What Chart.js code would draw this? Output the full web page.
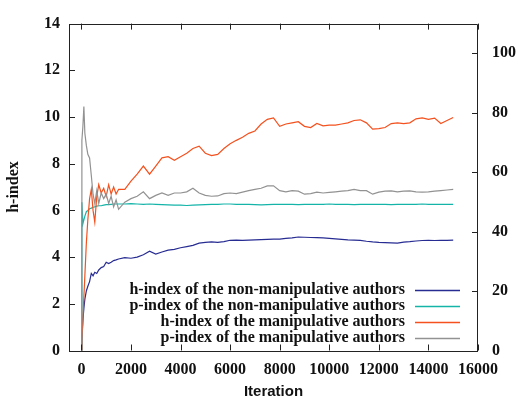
<!DOCTYPE html>
<html>
<head>
<meta charset="utf-8">
<script src="https://cdn.jsdelivr.net/npm/chart.js@4.4.0/dist/chart.umd.min.js"></script>
<style>
html, body { margin: 0; padding: 0; background: #fff; }
#wrap { width: 518px; height: 400px; position: relative; }
</style>
</head>
<body>
<div id="wrap"><canvas id="chart"></canvas></div>
<script>
// iteration of each sample (denser at the start where the curves move fast)
const ITERATIONS = [
    0, 20, 60, 100, 140, 200, 260, 330, 400, 470, 540, 620, 700, 800, 900, 1000, 1100, 1200, 1300, 1400, 1500,
    1750, 2000, 2250, 2500, 2750, 3000, 3250, 3500, 3750,
    4000, 4250, 4500, 4750, 5000, 5250, 5500, 5750, 6000,
    6250, 6500, 6750, 7000, 7250, 7500, 7750, 8000, 8250,
    8500, 8750, 9000, 9250, 9500, 9750, 10000, 10250, 10500,
    10750, 11000, 11250, 11500, 11750, 12000, 12250, 12500, 12750,
    13000, 13250, 13500, 13750, 14000, 14250, 14500, 14750, 15000,
];

// left axis (h-index)
const H_NON_MANIP = [
    0, 0.4, 1.3, 1.8, 2.2, 2.55, 2.75, 2.95, 3.3, 3.2, 3.35, 3.3, 3.45, 3.55, 3.6, 3.78, 3.72, 3.78, 3.85, 3.88, 3.92,
    3.98, 3.95, 4.0, 4.1, 4.25, 4.13, 4.22, 4.3, 4.33,
    4.4, 4.45, 4.5, 4.6, 4.63, 4.65, 4.63, 4.66, 4.72,
    4.73, 4.72, 4.73, 4.74, 4.75, 4.76, 4.77, 4.77, 4.8,
    4.82, 4.86, 4.85, 4.84, 4.83, 4.82, 4.8, 4.78, 4.76,
    4.74, 4.73, 4.72, 4.68, 4.65, 4.63, 4.62, 4.61, 4.6,
    4.64, 4.66, 4.69, 4.71, 4.72, 4.71, 4.72, 4.72, 4.73,
];

const H_MANIP = [
    0, 0.5, 1.3, 2.3, 3.2, 4.6, 5.6, 6.5, 6.9, 6.0, 5.5, 6.6, 7.1, 6.75, 6.95, 6.6, 7.1, 6.7, 7.0, 6.7, 6.9,
    6.9, 7.25, 7.55, 7.9, 7.55, 7.9, 8.25, 8.3, 8.15,
    8.3, 8.45, 8.65, 8.75, 8.45, 8.35, 8.4, 8.65, 8.85,
    9.0, 9.13, 9.3, 9.4, 9.7, 9.9, 9.96, 9.6, 9.7,
    9.75, 9.8, 9.6, 9.55, 9.72, 9.62, 9.65, 9.65, 9.7,
    9.75, 9.85, 9.88, 9.75, 9.48, 9.5, 9.55, 9.72, 9.75,
    9.72, 9.75, 9.92, 9.96, 9.9, 9.95, 9.72, 9.85, 9.98,
];

// right axis (p-index)
const P_NON_MANIP = [
    0, 49.9, 42.7, 44.0, 45.2, 46.7, 47.1, 47.7, 47.9, 48.2, 48.3, 48.6, 48.7, 48.7, 48.9, 49.1, 49.1, 49.2, 49.3, 49.3, 49.3,
    49.3, 49.4, 49.3, 49.2, 49.3, 49.2, 49.1, 49.0, 48.9,
    48.9, 48.8, 48.9, 49.0, 49.1, 49.2, 49.2, 49.3, 49.3,
    49.2, 49.2, 49.2, 49.1, 49.0, 49.1, 49.2, 49.2, 49.2,
    49.2, 49.1, 49.2, 49.2, 49.2, 49.2, 49.3, 49.2, 49.2,
    49.2, 49.1, 49.2, 49.2, 49.2, 49.2, 49.2, 49.1, 49.2,
    49.2, 49.2, 49.2, 49.3, 49.2, 49.2, 49.2, 49.2, 49.2,
];

const P_MANIP = [
    0, 70.7, 75.4, 82.1, 73.1, 69.0, 66.0, 64.8, 58.9, 52.6, 49.5, 53.8, 49.5, 53.0, 51.1, 52.6, 49.5, 51.9, 48.3, 50.7, 47.5,
    49.9, 51.1, 51.9, 53.4, 51.1, 52.2, 53.0, 52.2, 53.0,
    53.0, 53.4, 54.6, 53.0, 52.2, 51.9, 52.0, 52.8, 53.0,
    52.8, 53.3, 53.8, 54.2, 54.6, 55.4, 55.4, 53.8, 53.4,
    53.8, 53.6, 52.6, 52.8, 53.3, 53.0, 53.2, 53.4, 53.6,
    53.8, 54.2, 53.8, 53.8, 52.6, 53.3, 53.6, 53.7, 53.4,
    53.6, 53.7, 53.4, 53.3, 53.4, 53.6, 53.8, 54.0, 54.2,
];

const X_TICKS = [0, 2000, 4000, 6000, 8000, 10000, 12000, 14000, 16000];
const Y_TICKS = [0, 2, 4, 6, 8, 10, 12, 14];
const Y2_TICKS = [0, 20, 40, 60, 80, 100];

const LABELS = [
    "h-index of the non-manipulative authors",
    "p-index of the non-manipulative authors",
    "h-index of the manipulative authors",
    "p-index of the manipulative authors",
];
const COLORS = ["#272c92", "#14b4a9", "#f4511e", "#929292"];

const SERIF = "'Liberation Serif', 'DejaVu Serif', serif";
const TICK_FONT = { family: SERIF, size: 16, weight: "bold" };

function points(values) {
    return ITERATIONS.map(function (it, i) {
        return { x: it, y: values[i] };
    });
}

function fixedTicks(list) {
    return function (scale) {
        scale.ticks = list.map(function (v) { return { value: v }; });
    };
}

function plain(value) {
    return String(value);
}

// gnuplot style frame with ticks pointing inward, plus the key
const framePlugin = {
    id: "frame",
    afterDatasetsDraw: function (chart) {
        let ctx = chart.ctx;
        let a = chart.chartArea;
        let len = 6;
        ctx.save();
        ctx.strokeStyle = "#222";
        ctx.lineWidth = 1;
        ctx.beginPath();
        ctx.rect(Math.round(a.left) + 0.5, Math.round(a.top) + 0.5,
            Math.round(a.right - a.left) - 1, Math.round(a.bottom - a.top));
        X_TICKS.forEach(function (v) {
            let px = Math.round(chart.scales.x.getPixelForValue(v)) + 0.5;
            ctx.moveTo(px, a.bottom); ctx.lineTo(px, a.bottom - len);
            ctx.moveTo(px, a.top); ctx.lineTo(px, a.top + len);
        });
        Y_TICKS.forEach(function (v) {
            let py = Math.round(chart.scales.y.getPixelForValue(v)) + 0.5;
            ctx.moveTo(a.left, py); ctx.lineTo(a.left + len, py);
        });
        Y2_TICKS.forEach(function (v) {
            let py = Math.round(chart.scales.y2.getPixelForValue(v)) + 0.5;
            ctx.moveTo(a.right, py); ctx.lineTo(a.right - len, py);
        });
        ctx.stroke();

        ctx.font = "bold 16px " + SERIF;
        ctx.textAlign = "right";
        ctx.textBaseline = "middle";
        LABELS.forEach(function (label, i) {
            let y = 290 + i * 16;
            ctx.fillStyle = "#111";
            ctx.fillText(label, 405, y);
            ctx.strokeStyle = COLORS[i];
            ctx.lineWidth = 1.5;
            ctx.beginPath();
            ctx.moveTo(415, y + 0.5);
            ctx.lineTo(460, y + 0.5);
            ctx.stroke();
        });
        ctx.restore();
    }
};

const datasets = [
    { label: LABELS[0], data: points(H_NON_MANIP), yAxisID: "y", order: 4 },
    { label: LABELS[1], data: points(P_NON_MANIP), yAxisID: "y2", order: 3 },
    { label: LABELS[2], data: points(H_MANIP), yAxisID: "y", order: 2 },
    { label: LABELS[3], data: points(P_MANIP), yAxisID: "y2", order: 1 },
].map(function (ds, i) {
    ds.borderColor = COLORS[i];
    ds.backgroundColor = COLORS[i];
    ds.borderWidth = 1.2;
    ds.pointRadius = 0;
    ds.fill = false;
    ds.tension = 0;
    return ds;
});

new Chart(document.getElementById("chart"), {
    type: "line",
    data: { datasets: datasets },
    options: {
        animation: false,
        responsive: true,
        maintainAspectRatio: false,
        devicePixelRatio: 1,
        layout: { padding: { left: 0, right: 0, top: 14, bottom: 0 } },
        plugins: {
            legend: { display: false },
            tooltip: { enabled: false },
        },
        scales: {
            x: {
                type: "linear",
                min: -500,
                max: 16000,
                afterBuildTicks: fixedTicks(X_TICKS),
                afterFit: function (s) { s.height = 49.5; },
                grid: { display: false, drawTicks: false },
                border: { display: false },
                ticks: { font: TICK_FONT, color: "#111", padding: 10, maxRotation: 0, autoSkip: false, callback: plain },
                title: {
                    display: true,
                    text: "Iteration",
                    color: "#111",
                    font: { family: "'Liberation Sans', Arial, sans-serif", size: 15, weight: "bold", lineHeight: 1 },
                    padding: { top: 0, bottom: 0.5 },
                },
            },
            y: {
                position: "left",
                min: 0,
                max: 14,
                afterBuildTicks: fixedTicks(Y_TICKS),
                afterFit: function (s) { s.width = 69; },
                grid: { display: false, drawTicks: false },
                border: { display: false },
                ticks: { font: TICK_FONT, color: "#111", padding: 9, callback: plain },
                title: {
                    display: true,
                    text: "h-index",
                    color: "#111",
                    font: { family: SERIF, size: 16, weight: "bold", lineHeight: 1 },
                    padding: { top: 5.5, bottom: 0 },
                },
            },
            y2: {
                position: "right",
                min: 0,
                max: 110,
                afterBuildTicks: fixedTicks(Y2_TICKS),
                afterFit: function (s) { s.width = 40; },
                grid: { display: false, drawTicks: false },
                border: { display: false },
                ticks: { font: TICK_FONT, color: "#111", padding: 14, callback: plain },
            },
        },
    },
    plugins: [framePlugin],
});
</script>
</body>
</html>
